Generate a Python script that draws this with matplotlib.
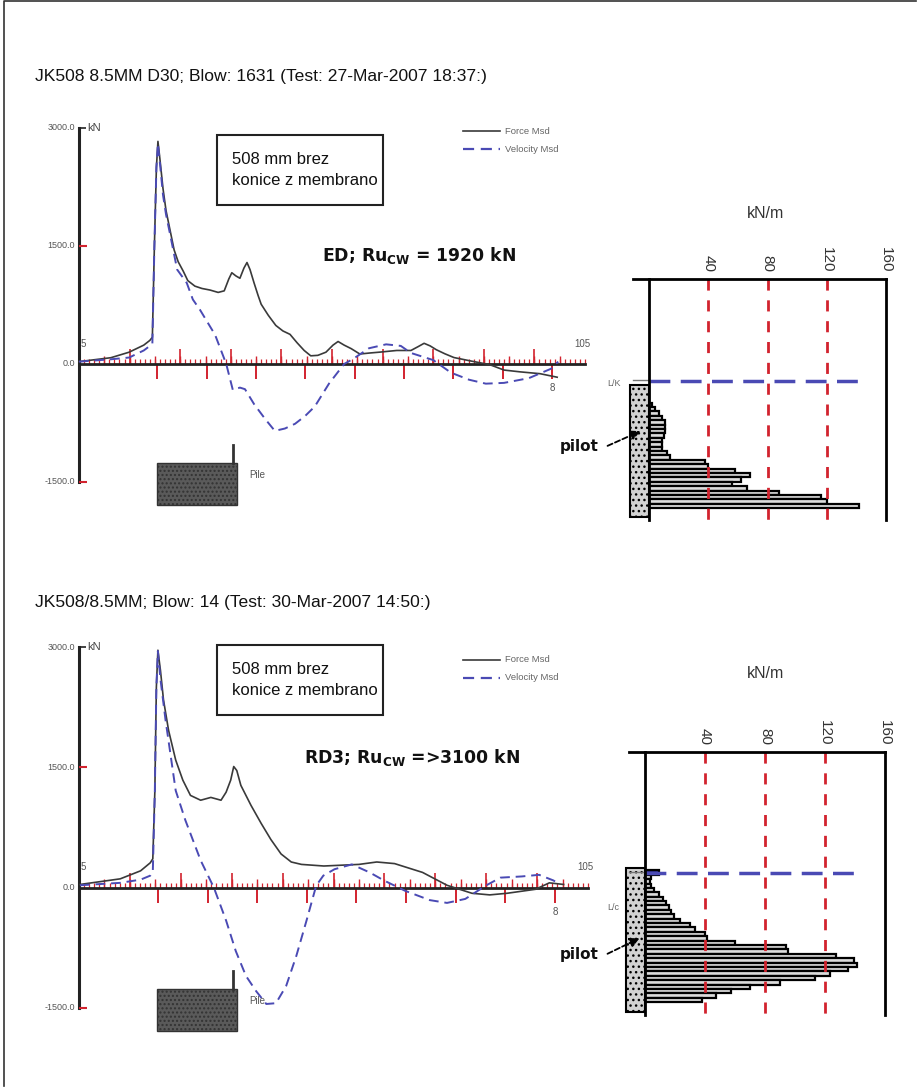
import numpy as np
import matplotlib
matplotlib.use("Agg")
import matplotlib.pyplot as plt
from matplotlib.patches import Rectangle, FancyArrowPatch
from matplotlib.lines import Line2D

plt.rcParams['font.family'] = ['Liberation Sans', 'DejaVu Sans']

W, H = 917, 1087

# ---------------- data ----------------
titles = ["JK508 8.5MM D30; Blow: 1631 (Test: 27-Mar-2007 18:37:)",
          "JK508/8.5MM; Blow: 14 (Test: 30-Mar-2007 14:50:)"]
ru_texts = [r"ED; Ru$_{\mathbf{CW}}$ = 1920 kN",
            r"RD3; Ru$_{\mathbf{CW}}$ =>3100 kN"]
box_text = "508 mm brez\nkonice z membrano"
y_ticks = [3000, 1500, 0, -1500]
y_tick_labels = ["3000.0", "1500.0", "0.0", "-1500.0"]
kNm_ticks = [40, 80, 120, 160]

# blow 1631 - force / velocity (kN) vs time
t_force_1 = [5.0, 11.3, 14.9, 17.8, 19.0, 19.5, 19.9, 20.3, 20.6, 21.0,
             21.6, 22.2, 23.0, 23.8, 24.6, 25.6, 26.5, 27.9, 29.3, 30.9,
             32.5, 33.7, 34.6, 35.2, 36.0, 36.8, 37.6, 38.2, 38.8, 39.6,
             40.4, 41.0, 42.4, 43.9, 45.3, 46.7, 48.1, 49.5, 50.8, 52.2,
             53.8, 55.2, 56.2, 57.4, 58.8, 60.5, 62.5, 64.3, 67.8, 70.6,
             72.0, 73.2, 74.4, 75.6, 77.3, 79.1, 82.3, 86.2, 89.0, 92.2,
             96.1, 99.5]
force_1 = [30, 80, 150, 240, 300, 340, 1500, 2500, 2830, 2600,
           2230, 1950, 1700, 1450, 1300, 1180, 1060, 990, 960, 940,
           910, 930, 1080, 1160, 1120, 1090, 1220, 1290, 1200, 1030,
           870, 760, 620, 490, 420, 377, 270, 172, 104, 110,
           150, 240, 286, 240, 195, 127, 140, 150, 172, 172,
           220, 263, 230, 182, 130, 82, 40, -9, -77, -100,
           -123, -168]
t_vel_1 = [5.0, 11.3, 14.9, 17.8, 19.0, 19.5, 19.9, 20.3, 20.6, 21.0,
           21.6, 22.2, 23.0, 24.4, 26.3, 27.5, 28.9, 31.9, 34.1, 35.4,
           36.8, 37.8, 39.6, 41.8, 43.7, 45.7, 47.7, 49.7, 51.6, 54.4,
           57.4, 59.3, 62.3, 65.7, 68.6, 70.6, 75.0, 78.5, 82.1, 85.4,
           89.0, 93.9, 98.3, 99.7]
vel_1 = [30, 60, 82, 172, 230, 260, 1500, 2500, 2800, 2550,
         2150, 1900, 1650, 1200, 1030, 820, 690, 370, 0, -330,
         -300, -320, -510, -700, -850, -820, -760, -660, -540, -250,
         0, 70, 200, 250, 230, 140, 50, -110, -200, -250,
         -240, -180, -60, 30]

# blow 14
t_force_2 = [5.2, 13.1, 17.1, 19.0, 19.5, 19.9, 20.2, 20.5, 21.0, 21.6,
             22.6, 24.0, 25.4, 26.9, 28.9, 30.9, 32.9, 33.9, 34.8, 35.4,
             36.0, 36.8, 38.8, 40.8, 42.7, 44.7, 46.7, 48.7, 53.1, 60.0,
             63.5, 67.0, 72.5, 77.3, 82.2, 85.7, 89.1, 94.7, 97.4, 100.2]
force_2 = [40, 110, 210, 310, 360, 1200, 2500, 2960, 2710, 2340,
           1960, 1590, 1340, 1150, 1090, 1125, 1090, 1190, 1340, 1510,
           1460, 1275, 1025, 800, 600, 420, 320, 290, 270, 290,
           320, 300, 190, 30, -70, -90, -70, -20, 60, 40]
t_vel_2 = [5.2, 13.1, 17.1, 19.0, 19.5, 19.9, 20.2, 20.5, 21.0, 22.0,
           24.0, 25.9, 28.9, 31.5, 33.9, 35.8, 37.8, 39.8, 41.8, 43.7,
           45.7, 47.7, 49.7, 51.6, 53.0, 55.2, 58.6, 62.1, 64.9, 69.1,
           73.9, 77.3, 80.9, 84.9, 87.8, 92.0, 95.4, 98.2, 99.5]
vel_2 = [30, 60, 100, 150, 200, 1200, 2500, 2950, 2600, 2090,
         1210, 840, 340, 0, -410, -790, -1100, -1290, -1450, -1440,
         -1225, -850, -410, 25, 150, 230, 290, 190, 90, -40,
         -155, -190, -140, 25, 125, 140, 160, 90, 40]

# impact time and 2L/c spacing (time units)
impact = [20.5, 20.5]
lc_step = [9.75, 9.75]

# shaft resistance distribution (kN/m) per pile segment, from top
rs_1 = [0, 0, 0, 0, 2, 4, 7, 9, 11, 11, 11, 10, 9, 9, 9, 12, 14,
        38, 40, 58, 68, 62, 56, 66, 88, 116, 120, 142]
rs_2 = [9, 4, 3, 4, 6, 9, 12, 14, 16, 17, 19, 23, 30, 33, 40, 41, 60,
        94, 95, 127, 139, 141, 135, 123, 113, 90, 70, 57, 47, 38]
pile_len = [30, 32.7]

RED = '#d2232e'
BLUE = '#4a4ab4'

fig = plt.figure(figsize=(W / 100, H / 100), dpi=100)


def fx(x):
    return x / W


def fy(y):
    return 1 - y / H


def axes_px(l, t, r, b):
    return fig.add_axes([l / W, 1 - b / H, (r - l) / W, (b - t) / H])


def draw_wave(ax, tf, f, tv, v, t0, step):
    ax.set_xlim(5, 105)
    ax.set_ylim(-1500, 3000)
    ax.axis('off')
    # ruler on time axis
    ax.vlines(np.arange(5, 106, 1), 0, 60, color=RED, lw=0.9, clip_on=False)
    ax.vlines(np.arange(10, 101, 5), 0, 105, color=RED, lw=1.0, clip_on=False)
    ax.vlines(np.arange(15, 96, 10), 0, 185, color=RED, lw=1.2, clip_on=False)
    major = t0 + step * np.arange(9)
    ax.vlines(major, -190, 0, color=RED, lw=1.4, clip_on=False)
    ax.plot([5, 105], [0, 0], color='#222222', lw=2.0, clip_on=False)
    ax.plot([5, 5], [-1500, 3000], color='#222222', lw=2.2, clip_on=False)
    ax.hlines([1500, -1500], 5, 6.6, color=RED, lw=1.5, clip_on=False)
    ax.hlines([3000], 5, 6.4, color='#222222', lw=1.2, clip_on=False)
    for val, lab in zip(y_ticks, y_tick_labels):
        ax.text(4.2, val, lab, ha='right', va='center', fontsize=6.5,
                color='#555555')
    ax.text(6.6, 3000, "kN", ha='left', va='center', fontsize=8,
            color='#444444')
    ax.text(5.4, 190, "5", ha='left', va='bottom', fontsize=7, color='#555555')
    ax.text(104.5, 190, "105", ha='center', va='bottom', fontsize=7,
            color='#555555')
    ax.text(major[-1], -240, "8", ha='center', va='top', fontsize=7,
            color='#555555')
    # measured records
    ax.plot(tf, f, color='#3a3a3a', lw=1.2, clip_on=False)
    ax.plot(tv, v, color=BLUE, lw=1.4, ls=(0, (5, 3)), clip_on=False)


def draw_header(y_title, box_top, ru_x, ru_y, legend_y, pile_top, idx):
    fig.text(fx(35), fy(y_title), titles[idx], fontsize=12.6, ha='left',
             va='center', color='#111111')
    fig.patches.append(Rectangle((fx(217), fy(box_top + 70)), 166 / W, 70 / H,
                                 transform=fig.transFigure, fill=False,
                                 edgecolor='#222222', lw=1.5))
    fig.text(fx(232), fy(box_top + 35), box_text, fontsize=12, ha='left',
             va='center', linespacing=1.45, color='#111111')
    fig.text(fx(ru_x), fy(ru_y), ru_texts[idx], fontsize=12.4, ha='left',
             va='center', family='DejaVu Sans', weight='bold',
             color='#111111')
    # legend
    fig.lines.append(Line2D([fx(463), fx(500)], [fy(legend_y)] * 2,
                            transform=fig.transFigure, color='#3a3a3a',
                            lw=1.2))
    fig.lines.append(Line2D([fx(463), fx(500)], [fy(legend_y + 18)] * 2,
                            transform=fig.transFigure, color=BLUE, lw=1.6,
                            ls=(0, (5, 3))))
    fig.text(fx(505), fy(legend_y), "Force Msd", fontsize=6.8, va='center',
             color='#666666')
    fig.text(fx(505), fy(legend_y + 18), "Velocity Msd", fontsize=6.8,
             va='center', color='#666666')
    # pile sketch
    fig.patches.append(Rectangle((fx(157), fy(pile_top + 42)), 80 / W, 42 / H,
                                 transform=fig.transFigure,
                                 facecolor='#5a5a5a', edgecolor='#333333',
                                 hatch='....', lw=1))
    fig.lines.append(Line2D([fx(233), fx(233)], [fy(pile_top), fy(pile_top - 18)],
                            transform=fig.transFigure, color='#333333', lw=2))
    fig.text(fx(249), fy(pile_top + 12), "Pile", fontsize=7, va='center',
             color='#555555')


def draw_profile(ax, rs, ylim, seg0, plen, first_dark, line_y):
    ax.set_xlim(0, 160)
    ax.set_ylim(*ylim)
    y = seg0 + np.arange(len(rs)) + 0.5
    colors = ['#dcdcdc'] * len(rs)
    if first_dark:
        colors[0] = '#2c2c88'
    ax.barh(y, rs, height=1.0, color=colors, edgecolor='black', lw=1.6)
    ax.vlines([40, 80, 120], ylim[1], ylim[0], color=RED, lw=2,
              ls=(0, (4, 3.5)))
    ax.hlines(line_y, 0, 142, color=BLUE, lw=2.5, ls=(0, (6, 3)))
    ax.add_patch(Rectangle((-12.8, 0), 12.8, plen, facecolor='#d2d2d2',
                           edgecolor='black', lw=1.5, hatch='...',
                           clip_on=False))
    ax.plot([-11, 160], [ylim[1], ylim[1]], color='black', lw=2,
            clip_on=False)
    ax.plot([-11, -1], [line_y - 0.2, line_y - 0.2], color='#777777', lw=1,
            clip_on=False)
    for s in ['top', 'bottom']:
        ax.spines[s].set_visible(False)
    for s in ['left', 'right']:
        ax.spines[s].set_linewidth(2)
    ax.set_yticks([])
    ax.set_xticks(kNm_ticks)
    ax.set_xticklabels([str(k) for k in kNm_ticks])
    ax.tick_params(axis='x', top=True, bottom=False, labeltop=True,
                   labelbottom=False, length=0, pad=5, labelsize=11,
                   labelrotation=270, labelcolor='#333333')
    ax.set_facecolor('none')


# ---------------- upper record ----------------
ax1 = axes_px(79, 128, 585, 482)
draw_wave(ax1, t_force_1, force_1, t_vel_1, vel_1, impact[0], lc_step[0])
draw_header(77, 135, 322, 255, 131, 463, 0)

axr1 = axes_px(649, 279, 886, 520)
draw_profile(axr1, rs_1, (30.7, -24.1), 0, pile_len[0], False, -0.9)
fig.text(fx(765), fy(214), "kN/m", fontsize=11.5, ha='center', va='center',
         color='#333333')
fig.text(fx(607), fy(384), "L/K", fontsize=6.5, ha='left', va='center',
         color='#666666')
fig.text(fx(599), fy(447), "pilot", fontsize=11, ha='right', va='center',
         family='DejaVu Sans', weight='bold', color='#111111')
fig.patches.append(FancyArrowPatch((fx(605), fy(447)), (fx(643), fy(430)),
                                   transform=fig.transFigure,
                                   arrowstyle='-|>', mutation_scale=14,
                                   color='black', lw=1.3, ls=(0, (3, 1.5))))

# ---------------- lower record ----------------
ax2 = axes_px(79, 647, 588, 1008)
draw_wave(ax2, t_force_2, force_2, t_vel_2, vel_2, impact[1], lc_step[1])
draw_header(603, 645, 304, 757, 660, 989, 1)

axr2 = axes_px(645, 752, 885, 1015)
draw_profile(axr2, rs_2, (33.4, -26.4), 0.5, pile_len[1], True, 1.0)
fig.text(fx(765), fy(674), "kN/m", fontsize=11.5, ha='center', va='center',
         color='#333333')
fig.text(fx(607), fy(908), "L/c", fontsize=6.5, ha='left', va='center',
         color='#666666')
fig.text(fx(599), fy(954), "pilot", fontsize=11, ha='right', va='center',
         family='DejaVu Sans', weight='bold', color='#111111')
fig.patches.append(FancyArrowPatch((fx(605), fy(955)), (fx(642), fy(937)),
                                   transform=fig.transFigure,
                                   arrowstyle='-|>', mutation_scale=14,
                                   color='black', lw=1.3, ls=(0, (3, 1.5))))

# page frame
fig.lines.append(Line2D([fx(4), fx(4), fx(916)], [fy(1086), fy(1), fy(1)],
                        transform=fig.transFigure, color='#333333', lw=1.2))

fig.savefig("out.png", dpi=100)
